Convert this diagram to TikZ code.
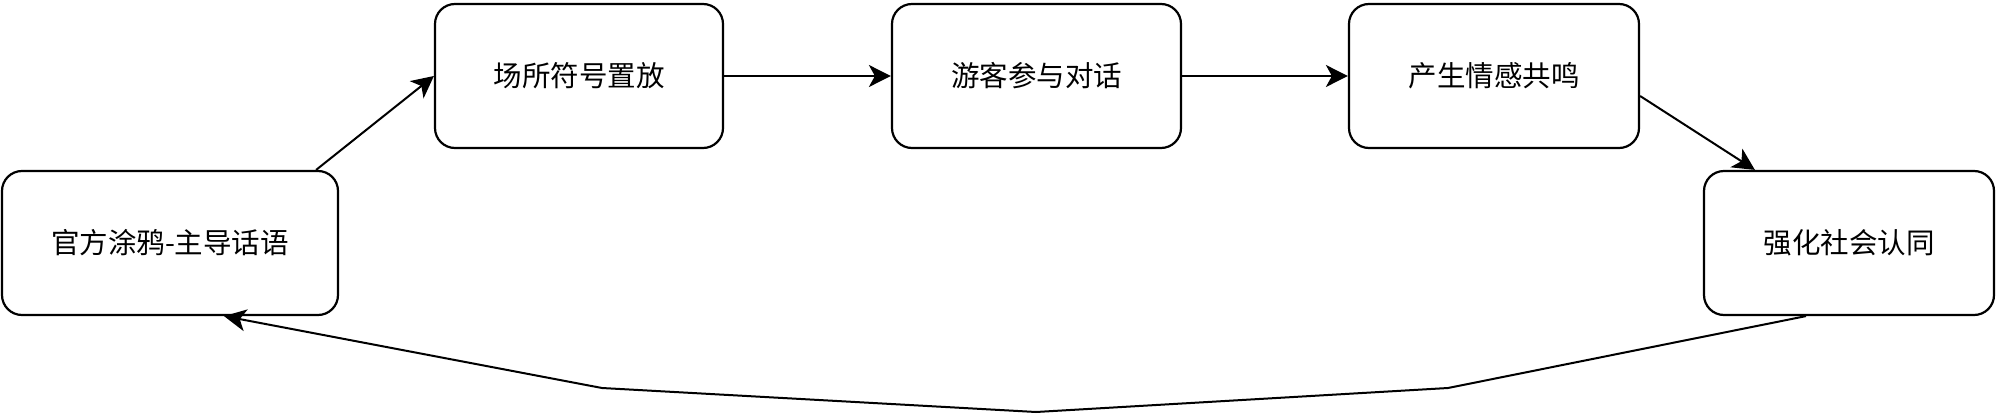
\documentclass[tikz,border=0pt]{standalone}
\usepackage{fontspec}
\newfontfamily\cjk{Noto Sans CJK SC}
\usetikzlibrary{arrows.meta,calc}
\begin{document}
\begin{tikzpicture}[x=1pt,y=-1pt,
  box/.style={draw,line width=2.2pt,rounded corners=20pt,minimum height=144pt,
    inner sep=0pt,font=\cjk\fontsize{28.5}{34}\selectfont},
  conn/.style={line width=2pt,-{Stealth[length=22pt,width=22pt,inset=6pt]}}]
\useasboundingbox (0,0) rectangle (2000,415);
\node[box,minimum width=336pt] (A) at (170,243) {官方涂鸦-主导话语};
\node[box,minimum width=288pt] (B) at (579,76) {场所符号置放};
\node[box,minimum width=289pt] (C) at (1036.5,76) {游客参与对话};
\node[box,minimum width=290pt] (D) at (1494,76) {产生情感共鸣};
\node[box,minimum width=290pt] (E) at (1849,243) {强化社会认同};
\coordinate (p1) at (1448,388);
\coordinate (p2) at (1036,412);
\coordinate (p3) at (602,388);
\draw[conn] ($(A.north east)+(-23,0)$) -- (B.west);
\draw[conn] (B.east) -- (C.west);
\draw[conn] (C.east) -- (D.west);
\draw[conn] ($(D.east)+(0,20)$) -- ($(E.north west)+(52,0)$);
\draw[conn] ($(E.south)+(-43,0)$) -- (p1) -- (p2) -- (p3) -- ($(A.south)+(54,0)$);
\end{tikzpicture}
\end{document}
